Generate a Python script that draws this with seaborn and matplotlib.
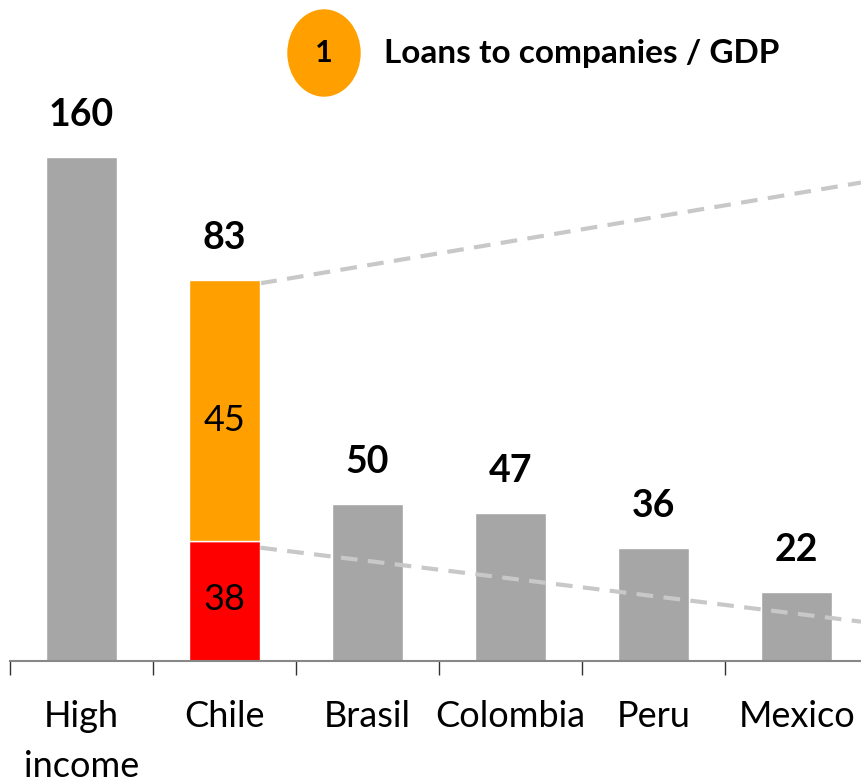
import matplotlib
matplotlib.use("Agg")
import matplotlib.pyplot as plt
from matplotlib.patches import Ellipse
import seaborn as sns
import pandas as pd

# data
categories = ["High\nincome", "Chile", "Brasil", "Colombia", "Peru", "Mexico"]
totals = [160, 83, 50, 47, 36, 22]
chile_local = 38                       # red part of the Chile bar
chile_other = totals[1] - chile_local  # 45, printed in the orange part
chile_orange_drawn = 83                # orange segment is drawn with the total's height in the source

# the two guide lines that lead out of the Chile bar (x in category units)
guide_x = [1.25, 5.45]
guide_top_y = [120, 152]
guide_low_y = [36, 12.5]

GREY = "#A6A6A6"
ORANGE = "#FFA000"
RED = "#FF0000"

sns.set_theme(style="white")
plt.rcParams["font.family"] = ["Lato", "DejaVu Sans"]
plt.rcParams["text.color"] = "black"
plt.rcParams["xtick.color"] = "black"

fig = plt.figure(figsize=(8.61, 7.82), dpi=100)
ax = fig.add_axes([10 / 861, 121 / 782, 851 / 861, 661 / 782])

df = pd.DataFrame({"country": categories,
                   "base": [totals[0], chile_local] + totals[2:]})
colors = [GREY, RED, GREY, GREY, GREY, GREY]
sns.barplot(data=df, x="country", y="base", hue="country", palette=colors,
            legend=False, width=0.5, saturation=1, ax=ax)
ax.bar(1, chile_orange_drawn, bottom=chile_local, width=0.5, color=ORANGE)

# dashed guides
ax.plot(guide_x, guide_top_y, ls=(0, (4, 2.5)), color="#C8C8C8", lw=3, zorder=0.5)
ax.plot(guide_x, guide_low_y, ls=(0, (4, 2.5)), color="#C8C8C8", lw=3, zorder=3)

# value labels above bars
tops = [totals[0], chile_local + chile_orange_drawn] + totals[2:]
for i, (t, v) in enumerate(zip(tops, totals)):
    ax.annotate(str(v), (i, t), xytext=(0, 18), textcoords="offset points",
                ha="center", va="bottom", fontsize=27, fontweight="bold")
ax.text(1, chile_local + chile_orange_drawn / 2 - 3, str(chile_other),
        ha="center", va="center", fontsize=26)
ax.text(1, chile_local / 2 + 0.5, str(chile_local), ha="center", va="center", fontsize=26)

ax.set_xlim(-0.5, 5.45)
ax.set_ylim(0, 210)
ax.set_xlabel("")
ax.set_ylabel("")
ax.set_yticks([])
ax.set_xticks([i - 0.5 for i in range(6)])
ax.set_xticklabels([])
ax.set_xticks(range(6), minor=True)
ax.set_xticklabels(categories, minor=True, fontsize=26, linespacing=1.62, va="top")
ax.tick_params(axis="x", which="major", bottom=True, length=10, width=1, color="#333333")
ax.tick_params(axis="x", which="minor", bottom=False, pad=24)
for s in ["top", "right", "left"]:
    ax.spines[s].set_visible(False)
ax.spines["bottom"].set_color("#888888")
ax.spines["bottom"].set_linewidth(1.5)

# header
fig.patches.append(Ellipse((324 / 861, 1 - 53 / 782), 72 / 861, 86 / 782,
                           transform=fig.transFigure, color=ORANGE))
fig.text(324 / 861, 1 - 53 / 782, "1", ha="center", va="center",
         fontsize=22, fontweight="bold")
fig.text(384 / 861, 1 - 53 / 782, "Loans to companies / GDP", ha="left", va="center",
         fontsize=24, fontweight="bold")

fig.savefig("out.png", dpi=100)
